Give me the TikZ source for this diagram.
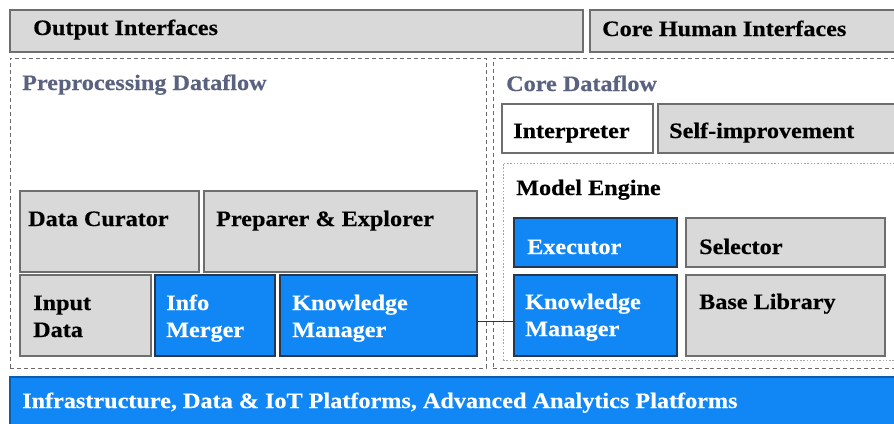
\documentclass[tikz,border=0pt]{standalone}
\usepackage{fontspec}
\setmainfont{Liberation Serif}[FakeStretch=1.1,FakeBold=0.4]
\definecolor{gfill}{HTML}{D9D9D9}
\definecolor{gline}{HTML}{6E6E6E}
\definecolor{bfill}{HTML}{1087F5}
\definecolor{bline}{HTML}{26384F}
\definecolor{ttl}{HTML}{5A6280}
\definecolor{dash}{HTML}{6A6A6A}
\begin{document}
\begin{tikzpicture}[x=1pt,y=-1pt,
  txt/.style={font=\bfseries\fontsize{22}{27}\selectfont, align=left, inner sep=0pt, anchor=base west},
  box/.style={draw=gline, line width=1.5pt, inner sep=0pt, outer sep=0pt, anchor=north west},
  gbox/.style={box, fill=gfill},
  wbox/.style={box, fill=white},
  bbox/.style={box, draw=bline, fill=bfill},
  region/.style={draw=dash, line width=1pt, dash pattern=on 4pt off 3pt, inner sep=0pt, outer sep=0pt, anchor=north west},
  engine/.style={draw=dash!60, line width=0.9pt, dash pattern=on 1.5pt off 1.8pt, inner sep=0pt, outer sep=0pt, anchor=north west},
  lab/.style n args={4}{label={[txt,#3,xshift=#1,yshift=-#2,label distance=0pt]north west:{#4}}},
  conn/.style={draw=black!80, line width=0.9pt}
]
\useasboundingbox (0,0) rectangle (894,423);
\fill[white] (0,0) rectangle (894,423);

% top bars
\node[gbox, minimum width=573pt, minimum height=42pt, lab={23pt}{25pt}{}{Output Interfaces}] (oi) at (10,10) {};
\node[gbox, minimum width=310pt, minimum height=42pt, lab={12pt}{26pt}{}{Core Human Interfaces}] (chi) at (590,10) {};

% regions
\node[region, minimum width=476pt, minimum height=310pt, lab={12pt}{32pt}{text=ttl}{Preprocessing Dataflow}] (pre) at (10,58) {};
\node[region, minimum width=410pt, minimum height=310pt, lab={13pt}{33pt}{text=ttl}{Core Dataflow}] (core) at (493,58) {};

% core dataflow
\node[wbox, minimum width=151pt, minimum height=49pt, lab={11pt}{34pt}{}{Interpreter}] (interp) at (502,104) {};
\node[gbox, minimum width=245pt, minimum height=49pt, lab={11pt}{34pt}{}{Self-improvement}] (self) at (658,104) {};
\node[engine, minimum width=391pt, minimum height=197pt, lab={13pt}{32pt}{}{Model Engine}] (engine) at (503,163) {};
\node[bbox, minimum width=163pt, minimum height=49pt, lab={13pt}{36pt}{text=white}{Executor}] (exec) at (514,218) {};
\node[gbox, minimum width=199pt, minimum height=49pt, lab={13pt}{36pt}{}{Selector}] (sel) at (686,218) {};
\node[bbox, minimum width=163pt, minimum height=81pt, lab={11pt}{61pt}{text=white}{Knowledge\\Manager}] (kmr) at (514,275) {};
\node[gbox, minimum width=199pt, minimum height=81pt, lab={13pt}{34pt}{}{Base Library}] (blib) at (686,275) {};

% preprocessing
\node[gbox, minimum width=179pt, minimum height=81pt, lab={8pt}{35pt}{}{Data Curator}] (cur) at (20,191) {};
\node[gbox, minimum width=273pt, minimum height=81pt, lab={12pt}{35pt}{}{Preparer \& Explorer}] (prep) at (204,191) {};
\node[gbox, minimum width=131pt, minimum height=81pt, lab={13pt}{62pt}{}{Input\\Data}] (inp) at (20,275) {};
\node[bbox, minimum width=120pt, minimum height=81pt, lab={11pt}{62pt}{text=white}{Info\\Merger}] (merge) at (155,275) {};
\node[bbox, minimum width=197pt, minimum height=81pt, lab={12pt}{62pt}{text=white}{Knowledge\\Manager}] (kml) at (280,275) {};

% bottom bar
\node[bbox, draw=bfill!70!black, minimum width=900pt, minimum height=50pt, lab={12pt}{31pt}{text=white}{Infrastructure, Data \& IoT Platforms, Advanced Analytics Platforms}] (infra) at (10,377) {};

% connector
\draw[conn] ([yshift=-6pt]kml.east) -- ([yshift=-6pt]kmr.west);
\end{tikzpicture}
\end{document}
